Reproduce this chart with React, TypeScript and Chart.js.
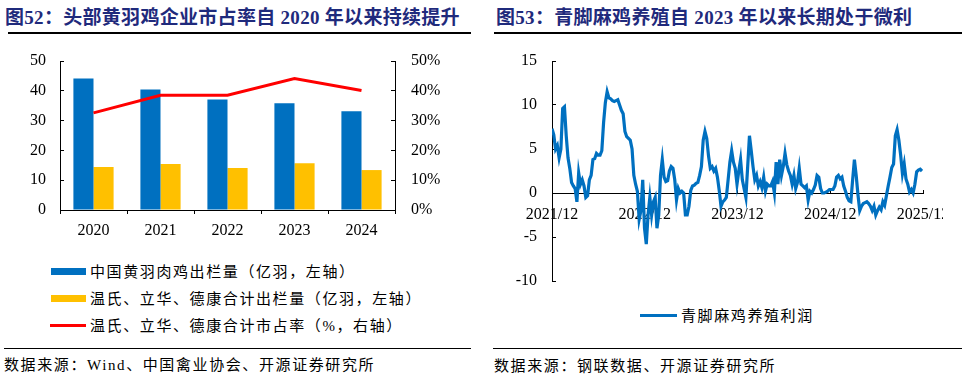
import React, { useEffect, useRef } from 'react';
import { Chart, registerables } from 'chart.js';

Chart.register(...registerables);

// ---------- Left chart data ----------
const YEARS = ['2020', '2021', '2022', '2023', '2024'];
const NATIONAL_OUTPUT = [44.1, 40.4, 37.1, 35.8, 33.1]; // 亿羽
const TOP3_OUTPUT = [14.4, 15.4, 14.1, 15.7, 13.4]; // 亿羽
const TOP3_SHARE = [32.6, 38.5, 38.5, 44.1, 40.1]; // %

// ---------- Right chart data (weekly, starting 2021/12) ----------
const PROFIT_TICK_LABELS = ['2021/12', '2022/12', '2023/12', '2024/12', '2025/12'];
const WEEKS_PER_YEAR = 52.14;
const PROFIT_WEEKLY = [
  7.3, 6.6, 5.0, 5.4, 4.0, 5.0, 9.6, 9.8, 6.5, 4.0,
  2.8, 1.2, 0.8, 0.5, -1.0, 2.3, 1.0, 1.5, 0.8, -0.5,
  -0.3, 1.5, 2.0, 3.8, 3.9, 4.5, 4.3, 4.3, 4.8, 8.0,
  10.3, 11.5, 10.8, 10.7, 10.5, 10.4, 10.5, 10.6, 10.0, 9.4,
  9.0, 7.0, 6.4, 6.2, 6.0, 5.0, 2.0, 1.0, 0.2, -3.0,
  -2.0, 1.5, -4.0, -5.8, -2.5, -0.5, -2.5, -1.0, -0.5, -4.0,
  -2.5, 2.0, 3.8, 1.8, 1.3, 1.4, 2.5, 3.0, 2.8, 1.5,
  -0.8, 0.5, 0.0, 0.2, 0.0, -2.5, -2.5, -1.5, 0.3, 0.8,
  0.9, 1.1, 1.2, 2.0, 3.0, 6.0, 7.0, 6.2, 4.2, 2.8,
  3.0, 2.5, 2.8, 1.8, 0.3, -1.5, -1.0, -0.8, -0.5, 1.5,
  3.5, 4.8, 3.5, 2.8, 1.0, 2.5, 3.8, 1.5, 0.5, -0.5,
  3.0, 6.5, 4.8, 3.0, 1.5, 2.0, 0.8, 1.3, 0.6, 1.8,
  0.2, 1.0, 0.8, 0.8, 1.3, 0.0, 3.5, 1.0, 3.8, 2.0,
  3.0, 4.5, 3.2, 2.5, 2.0, 1.0, 2.0, 0.5, 1.2, 2.8,
  1.0, 0.8, 0.6, 0.8, -0.8, 0.2, 0.0, 0.4, 0.9, 2.0,
  1.8, 0.5, 0.0, 0.0, 0.1, 0.2, 0.4, 0.4, 0.4, 0.8,
  1.8, 2.0, 1.6, 1.8, 0.8, 0.2, -0.5, -0.9, -1.0, 1.5,
  3.8, 2.0, -0.2, -2.0, -1.5, -1.2, -1.1, -1.0, -1.2, -1.5,
  -2.0, -1.5, -2.5, -2.0, -1.6, -1.9, -1.0, -1.4, -0.3, 0.8,
  1.8, 2.9, 3.3, 6.5, 7.2, 6.0, 4.3, 2.2, 3.3, 1.6,
  1.0, 0.1, 0.4, 0.0, 1.0, 2.4, 2.6, 2.7, 2.5,
];

const BLUE = '#0070C0';
const YELLOW = '#FFC000';
const RED = '#FF0000';
const NAVY = '#1f2a7c';
const SERIF = "'Liberation Serif', 'Times New Roman', serif";
const CJK = "'Liberation Serif', 'Noto Sans CJK SC', sans-serif";
const TICK_FONT = { family: SERIF, size: 16 };

function LeftChart() {
  const ref = useRef<HTMLCanvasElement>(null);
  useEffect(() => {
    const chart = new Chart(ref.current!, {
      type: 'bar',
      data: {
        labels: YEARS,
        datasets: [
          {
            type: 'line',
            label: '温氏、立华、德康合计市占率（%，右轴）',
            data: TOP3_SHARE,
            yAxisID: 'y1',
            borderColor: RED,
            backgroundColor: RED,
            borderWidth: 3,
            pointRadius: 0,
            tension: 0,
            order: 0,
          } as any,
          {
            label: '中国黄羽肉鸡出栏量（亿羽，左轴）',
            data: NATIONAL_OUTPUT,
            backgroundColor: BLUE,
            yAxisID: 'y',
            order: 1,
          },
          {
            label: '温氏、立华、德康合计出栏量（亿羽，左轴）',
            data: TOP3_OUTPUT,
            backgroundColor: YELLOW,
            yAxisID: 'y',
            order: 1,
          },
        ],
      },
      options: {
        responsive: false,
        animation: false,
        devicePixelRatio: 1,
        layout: { padding: { top: 16, bottom: 0, left: 0, right: 25 } },
        datasets: { bar: { categoryPercentage: 0.6, barPercentage: 1.0 } } as any,
        plugins: { legend: { display: false }, tooltip: { enabled: false } },
        scales: {
          x: {
            grid: { display: true, drawOnChartArea: false, drawTicks: true, tickLength: 4, color: '#000', offset: true },
            border: { display: true, color: '#000', width: 1 },
            ticks: { font: TICK_FONT, color: '#000', padding: 7, maxRotation: 0 },
            afterFit: (s: any) => { s.height = 35; s.paddingLeft = 0; s.paddingRight = 0; },
          },
          y: {
            position: 'left',
            min: 0,
            max: 50,
            ticks: { stepSize: 10, font: TICK_FONT, color: '#000', padding: 18 },
            grid: { display: true, drawOnChartArea: false, drawTicks: true, tickLength: -4, color: '#000' },
            border: { display: true, color: '#000', width: 1 },
            afterFit: (s: any) => { s.width = 60; s.paddingTop = 0; s.paddingBottom = 0; },
          },
          y1: {
            position: 'right',
            min: 0,
            max: 50,
            ticks: { stepSize: 10, font: TICK_FONT, color: '#000', padding: 20, callback: (v: any) => `${v}%` },
            grid: { display: true, drawOnChartArea: false, drawTicks: true, tickLength: -4, color: '#000' },
            border: { display: true, color: '#000', width: 1 },
            afterFit: (s: any) => { s.width = 60; s.paddingTop = 0; s.paddingBottom = 0; },
          },
        },
      } as any,
    });
    return () => chart.destroy();
  }, []);
  return (
    <canvas
      ref={ref}
      width={480}
      height={200}
      style={{ position: 'absolute', left: 0, top: 45, width: 480, height: 200 }}
    />
  );
}

function RightChart() {
  const ref = useRef<HTMLCanvasElement>(null);
  useEffect(() => {
    const chart = new Chart(ref.current!, {
      type: 'line',
      data: {
        datasets: [
          {
            label: '青脚麻鸡养殖利润',
            data: PROFIT_WEEKLY.map((v, i) => ({ x: i, y: v })),
            borderColor: BLUE,
            backgroundColor: BLUE,
            borderWidth: 3.2,
            pointRadius: 0,
            tension: 0,
          },
        ],
      },
      options: {
        responsive: false,
        animation: false,
        devicePixelRatio: 1,
        layout: { padding: { top: 16, bottom: 14, left: 0, right: 20 } },
        plugins: { legend: { display: false }, tooltip: { enabled: false } },
        scales: {
          x: {
            type: 'linear',
            position: { y: 0 },
            min: 0,
            max: WEEKS_PER_YEAR * (PROFIT_TICK_LABELS.length - 1),
            afterBuildTicks: (s: any) => {
              s.ticks = PROFIT_TICK_LABELS.map((_, i) => ({ value: i * WEEKS_PER_YEAR }));
            },
            ticks: {
              font: TICK_FONT,
              color: '#000',
              padding: 16,
              maxRotation: 0,
              autoSkip: false,
              callback: (_v: any, i: number) => PROFIT_TICK_LABELS[i],
            },
            grid: { display: true, drawOnChartArea: false, drawTicks: true, tickLength: -4, color: '#000' },
            border: { display: true, color: '#000', width: 1 },
            afterFit: (s: any) => { s.height = 0; s.paddingLeft = 0; s.paddingRight = 0; },
          },
          y: {
            min: -10,
            max: 15,
            ticks: { stepSize: 5, font: TICK_FONT, color: '#000', padding: 19 },
            grid: { display: true, drawOnChartArea: false, drawTicks: true, tickLength: -4, color: '#000' },
            border: { display: true, color: '#000', width: 1 },
            afterFit: (s: any) => { s.width = 62; s.paddingTop = 0; s.paddingBottom = 0; },
          },
        },
      } as any,
    });
    return () => chart.destroy();
  }, []);
  return (
    <canvas
      ref={ref}
      width={453}
      height={250}
      style={{ position: 'absolute', left: 490, top: 45, width: 453, height: 250 }}
    />
  );
}

const titleStyle: React.CSSProperties = {
  position: 'absolute',
  top: 7,
  fontFamily: "'Liberation Serif', 'Noto Sans CJK SC', serif",
  fontWeight: 'bold',
  fontSize: 19,
  letterSpacing: 0.3,
  lineHeight: '21px',
  color: NAVY,
  whiteSpace: 'nowrap',
};

const textStyle: React.CSSProperties = {
  position: 'absolute',
  fontFamily: CJK,
  fontSize: 15,
  letterSpacing: 1.6,
  lineHeight: '20px',
  color: '#000',
  whiteSpace: 'nowrap',
};

function hline(left: number, top: number, width: number, h: number, color: string) {
  return <div style={{ position: 'absolute', left, top, width, height: h, background: color }} />;
}

export default function App() {
  return (
    <div style={{ position: 'absolute', left: 0, top: 0, width: 970, height: 379, background: '#fff', overflow: 'hidden' }}>
      {/* Left panel */}
      <div style={{ ...titleStyle, left: 5 }}>图52：头部黄羽鸡企业市占率自 2020 年以来持续提升</div>
      {hline(8, 32, 463, 1.5, '#000')}
      <LeftChart />
      {hline(51, 268, 35, 7, BLUE)}
      <div style={{ ...textStyle, left: 90, top: 262 }}>中国黄羽肉鸡出栏量（亿羽，左轴）</div>
      {hline(51, 295, 35, 7, YELLOW)}
      <div style={{ ...textStyle, left: 90, top: 289 }}>温氏、立华、德康合计出栏量（亿羽，左轴）</div>
      {hline(50, 324, 36, 3, RED)}
      <div style={{ ...textStyle, left: 90, top: 316 }}>温氏、立华、德康合计市占率（%，右轴）</div>
      {hline(4, 348, 467, 1, '#000')}
      <div style={{ ...textStyle, left: 4, top: 355 }}>数据来源：Wind、中国禽业协会、开源证券研究所</div>

      {/* Right panel */}
      <div style={{ ...titleStyle, left: 496 }}>图53：青脚麻鸡养殖自 2023 年以来长期处于微利</div>
      {hline(494, 32, 468, 1.5, '#000')}
      <RightChart />
      {hline(640, 314, 37, 3, BLUE)}
      <div style={{ ...textStyle, left: 681, top: 306 }}>青脚麻鸡养殖利润</div>
      {hline(493, 348, 469, 1, '#000')}
      <div style={{ ...textStyle, left: 494, top: 356 }}>数据来源：钢联数据、开源证券研究所</div>
    </div>
  );
}
